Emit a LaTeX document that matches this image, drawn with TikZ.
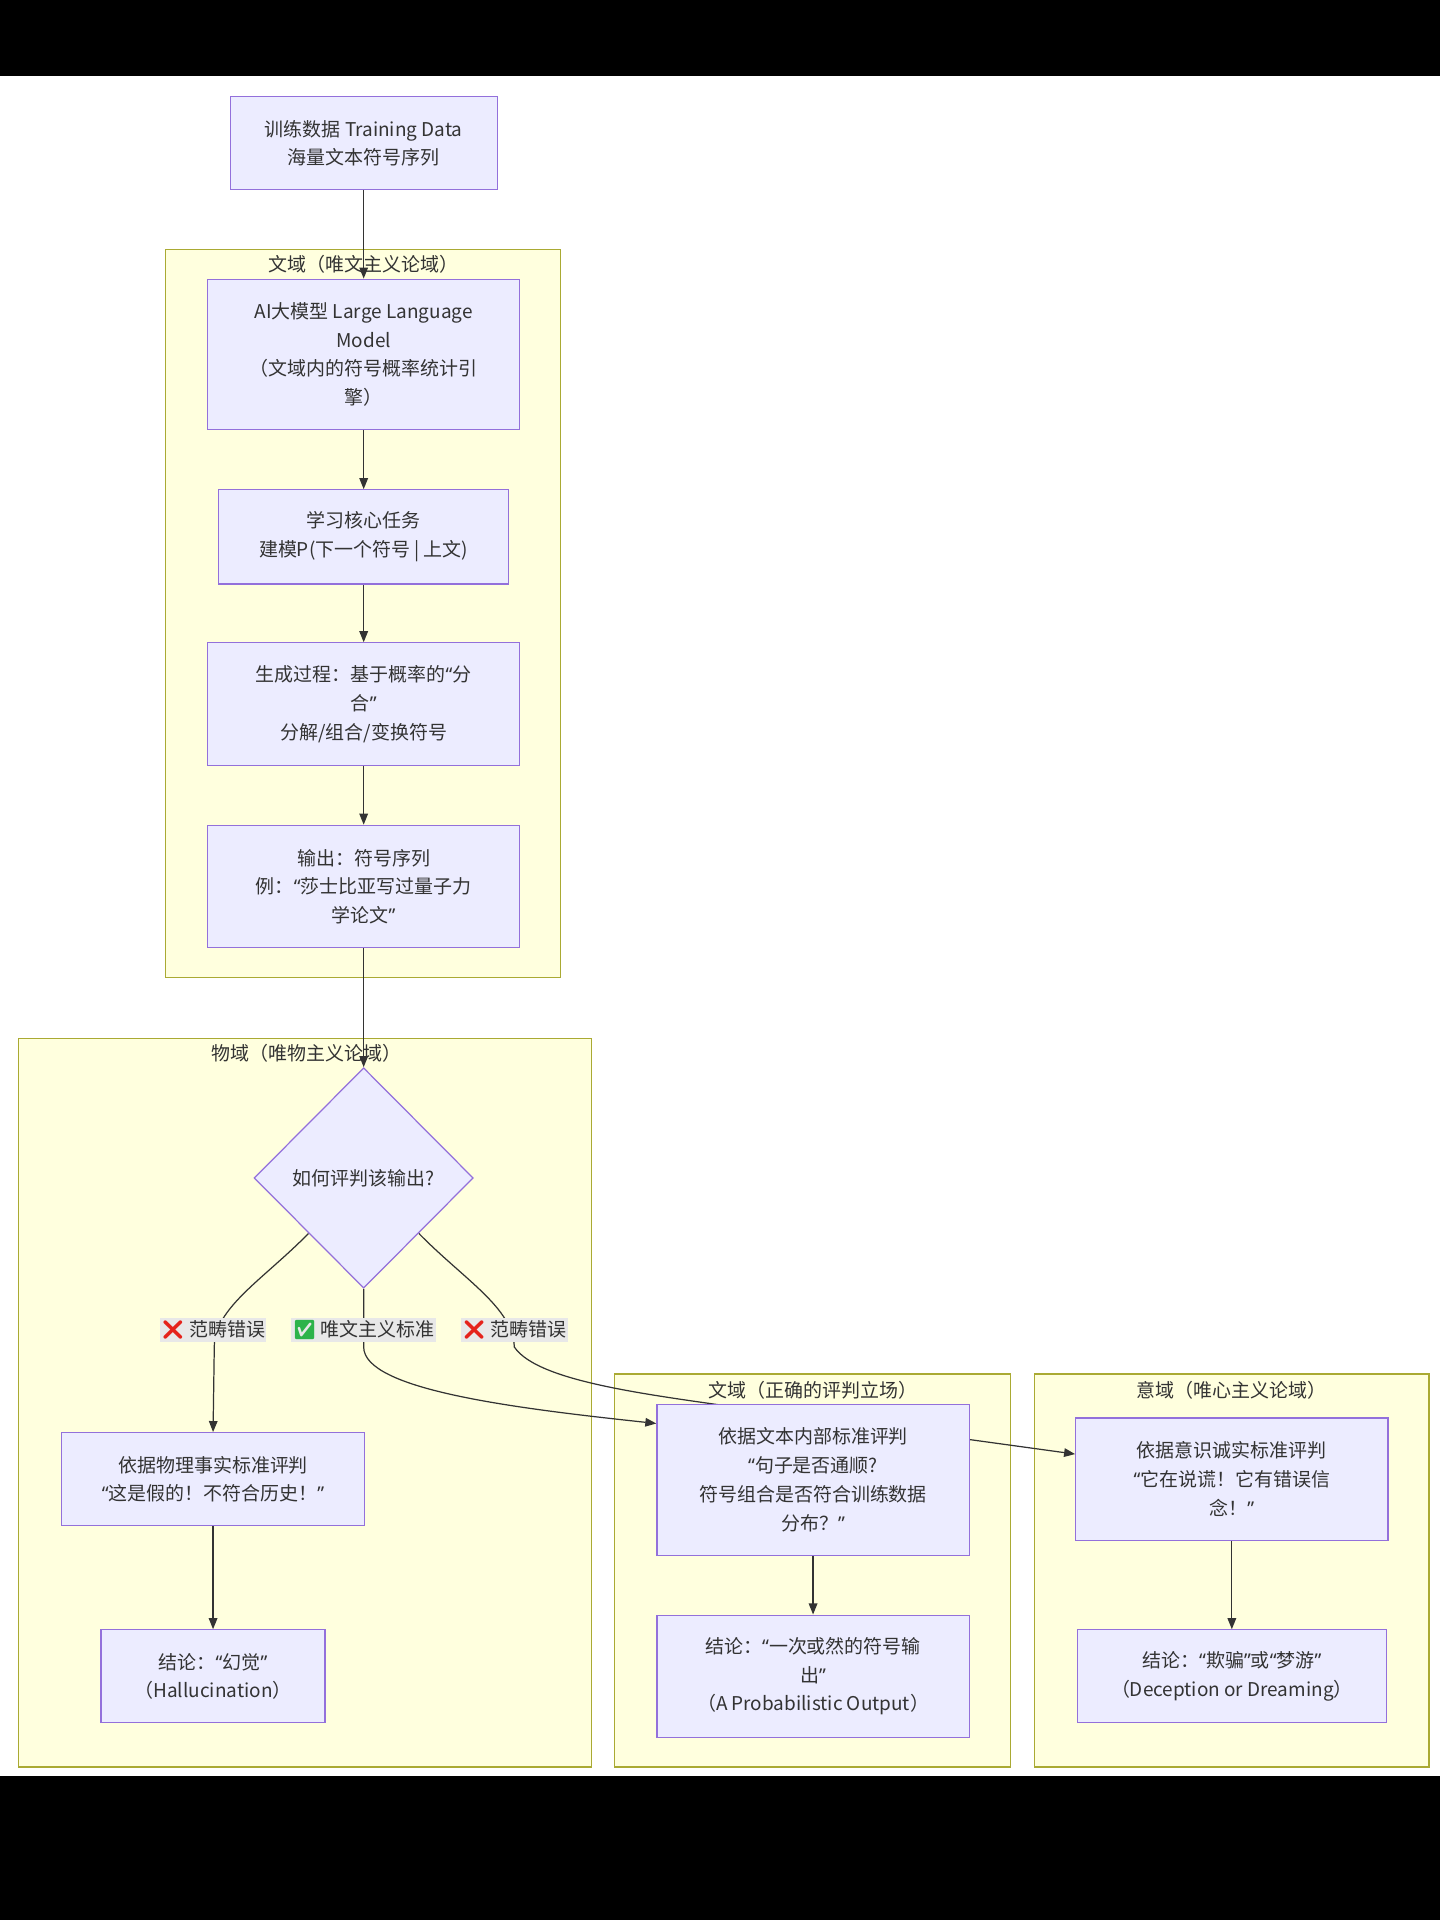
\documentclass[tikz,border=0pt]{standalone}
\usepackage{fontspec}
\setmainfont{Noto Sans CJK SC}
\newfontfamily\emojifont{Noto Emoji}
\newfontfamily\qfont{Noto Sans}
\newcommand\oq{{\qfont “}}
\newcommand\cq{{\qfont ”}}
\usetikzlibrary{arrows.meta,shapes.geometric,calc}
\definecolor{nodefill}{HTML}{ECECFF}
\definecolor{nodeline}{HTML}{9370DB}
\definecolor{clfill}{HTML}{FFFFDE}
\definecolor{clline}{HTML}{AAAA33}
\definecolor{edgec}{HTML}{333333}
\definecolor{lblbg}{HTML}{E8E8E8}
\definecolor{txt}{HTML}{333333}
\definecolor{xred}{HTML}{E5231B}
\definecolor{okgreen}{HTML}{2DB34A}
\pgfdeclarelayer{bg}
\pgfdeclarelayer{edges}
\pgfsetlayers{bg,edges,main}
\begin{document}
\begin{tikzpicture}[x=1pt,y=-1pt,
  every node/.style={font=\fontsize{15.5}{23.5}\selectfont, text=txt},
  box/.style={draw=nodeline, fill=nodefill, line width=1pt, align=center, inner sep=0pt},
  cluster/.style={draw=clline, fill=clfill, line width=1pt},
  cltitle/.style={inner sep=0pt},
  edge/.style={draw=edgec, line width=1pt, -{Triangle[length=9pt,width=7pt]}},
  lbl/.style={fill=lblbg, inner xsep=1pt, inner ysep=2pt},
  dec/.style={diamond, draw=nodeline, fill=nodefill, line width=1pt, inner sep=0pt, minimum width=179pt, minimum height=180pt, align=center}
]
\useasboundingbox (0,0) rectangle (1176,1568);

\begin{pgfonlayer}{bg}
\fill[white] (0,0) rectangle (1176,1568);
\fill[black] (0,0) rectangle (1176,62);
\fill[black] (0,1450) rectangle (1176,1568);
\draw[cluster] (135,204) rectangle (458,798);
\node[cltitle] (t1) at (297,216) {文域（唯文主义论域）};
\draw[cluster] (15,848) rectangle (483,1443);
\node[cltitle] (t2) at (250,860) {物域（唯物主义论域）};
\draw[cluster] (502,1122) rectangle (825,1443);
\node[cltitle] (t3) at (664,1135) {文域（正确的评判立场）};
\draw[cluster] (845,1122) rectangle (1167,1443);
\node[cltitle] (t4) at (1006,1135) {意域（唯心主义论域）};
\end{pgfonlayer}

\node[box, minimum width=218pt, minimum height=76pt] (train) at (297,117) {训练数据 Training Data\\海量文本符号序列};
\node[box, minimum width=255pt, minimum height=123pt] (ai) at (297,289.5) {AI大模型 Large Language\\Model\\（文域内的符号概率统计引\\擎）};
\node[box, minimum width=237pt, minimum height=77pt] (learn) at (297,438.5) {学习核心任务\\建模P(下一个符号 | 上文)};
\node[box, minimum width=255pt, minimum height=100pt] (gen) at (297,575) {生成过程：基于概率的\oq 分\\合\cq\\分解/组合/变换符号};
\node[box, minimum width=255pt, minimum height=100pt] (out) at (297,724) {输出：符号序列\\例：\oq 莎士比亚写过量子力\\学论文\cq};
\node[dec] (dia) at (297,962) {如何评判该输出?};
\node[box, minimum width=247pt, minimum height=76pt] (phys) at (174,1208) {依据物理事实标准评判\\\oq 这是假的！不符合历史！\cq};
\node[box, minimum width=183pt, minimum height=76pt] (hall) at (174,1369) {结论：\oq 幻觉\cq\\（Hallucination）};
\node[box, minimum width=255pt, minimum height=123pt] (wen) at (664,1208.5) {依据文本内部标准评判\\\oq 句子是否通顺?\\符号组合是否符合训练数据\\分布？\cq};
\node[box, minimum width=255pt, minimum height=100pt] (prob) at (664,1369) {结论：\oq 一次或然的符号输\\出\cq\\（A Probabilistic Output）};
\node[box, minimum width=255pt, minimum height=100pt] (yi) at (1006,1208) {依据意识诚实标准评判\\\oq 它在说谎！它有错误信\\念！\cq};
\node[box, minimum width=252pt, minimum height=76pt] (dream) at (1006,1369) {结论：\oq 欺骗\cq 或\oq 梦游\cq\\（Deception or Dreaming）};

\begin{pgfonlayer}{edges}
\draw[edge] (train.south) -- (ai.north);
\draw[edge] (ai.south) -- (learn.north);
\draw[edge] (learn.south) -- (gen.north);
\draw[edge] (gen.south) -- (out.north);
\draw[edge] (out.south) -- (dia.north);
\draw[edge] (dia.south west) .. controls (215,1045) and (175,1068) .. (175,1100) -- (phys.north);
\draw[edge] (dia.south) -- (297,1100) .. controls (297,1135) and (420,1150) .. ($(wen.north west)+(0,16)$);
\draw[edge] (dia.south east) .. controls (379,1045) and (419,1068) .. (420,1100) .. controls (440,1130) and (540,1140) .. (620,1152) -- ($(yi.north west)+(0,30)$);
\draw[edge] (phys.south) -- (hall.north);
\draw[edge] (wen.south) -- (prob.north);
\draw[edge] (yi.south) -- (dream.north);
\end{pgfonlayer}

\node[lbl] (l1) at (174,1086) {{\emojifont\color{xred}❌} 范畴错误};
\node[lbl] (l2) at (297,1086) {{\emojifont\color{okgreen}✅} 唯文主义标准};
\node[lbl] (l3) at (420,1086) {{\emojifont\color{xred}❌} 范畴错误};
\end{tikzpicture}
\end{document}
